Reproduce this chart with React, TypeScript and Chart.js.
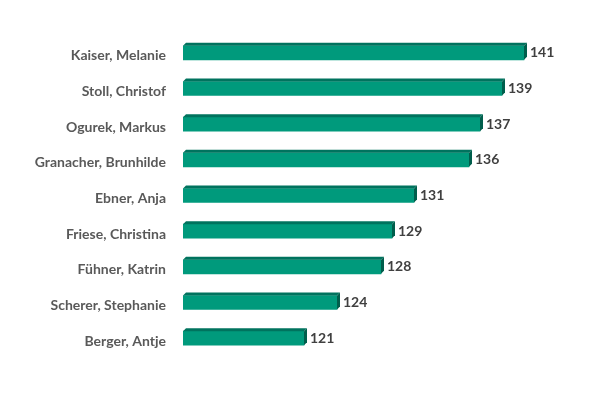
import { useEffect, useRef } from 'react'
import { Chart, registerables } from 'chart.js'
Chart.register(...registerables)

const names = [
  'Kaiser, Melanie', 'Stoll, Christof', 'Ogurek, Markus', 'Granacher, Brunhilde', 'Ebner, Anja',
  'Friese, Christina', 'Fühner, Katrin', 'Scherer, Stephanie', 'Berger, Antje',
]
const werte = [141, 139, 137, 136, 131, 129, 128, 124, 121]

const FONT = 'Lato, "Noto Sans", sans-serif'
const DEPTH = 3

// draws the pseudo-3D top and side faces plus the value labels
const bar3d = {
  id: 'bar3d',
  afterDatasetsDraw(chart: any) {
    const ctx = chart.ctx
    const meta = chart.getDatasetMeta(0)
    const left = chart.chartArea.left
    ctx.save()
    meta.data.forEach((el: any, i: number) => {
      const { x, y, base, height } = el.getProps(['x', 'y', 'base', 'height'], true)
      const b = Math.max(base, left)
      const top = y - height / 2
      const bot = y + height / 2
      ctx.fillStyle = '#00735e'
      ctx.beginPath()
      ctx.moveTo(b, top); ctx.lineTo(b + DEPTH, top - DEPTH)
      ctx.lineTo(x + DEPTH, top - DEPTH); ctx.lineTo(x, top); ctx.closePath(); ctx.fill()
      ctx.fillStyle = '#005e4c'
      ctx.beginPath()
      ctx.moveTo(x, top); ctx.lineTo(x + DEPTH, top - DEPTH)
      ctx.lineTo(x + DEPTH, bot - DEPTH); ctx.lineTo(x, bot); ctx.closePath(); ctx.fill()
      ctx.fillStyle = '#404040'
      ctx.font = `bold 14px ${FONT}`
      ctx.textAlign = 'left'
      ctx.textBaseline = 'middle'
      ctx.fillText(String(werte[i]), x + DEPTH + 3, y)
    })
    ctx.restore()
  },
}

export default function App() {
  const ref = useRef<HTMLCanvasElement>(null)

  useEffect(() => {
    if (!ref.current) return
    const chart = new Chart(ref.current, {
      type: 'bar',
      data: {
        labels: names,
        datasets: [{ data: werte, backgroundColor: '#009a7c', barThickness: 14 }],
      },
      options: {
        indexAxis: 'y',
        animation: false,
        responsive: false,
        layout: { padding: { top: 35, bottom: 44, right: 32, left: 0 } },
        plugins: { legend: { display: false }, tooltip: { enabled: false } },
        scales: {
          x: { min: 110, max: 145, display: false },
          y: {
            grid: { display: false },
            border: { display: false },
            ticks: { color: '#595959', padding: 9, labelOffset: 3, font: { family: FONT, size: 14, weight: 'bold' } },
            afterFit: (s: any) => { s.width = 183 },
          },
        },
      },
      plugins: [bar3d],
    })
    return () => { chart.destroy() }
  }, [])

  return (
    <div style={{ position: 'absolute', left: 0, top: 0, width: 600, height: 400, background: '#fff' }}>
      <canvas ref={ref} width={600} height={400} />
    </div>
  )
}
